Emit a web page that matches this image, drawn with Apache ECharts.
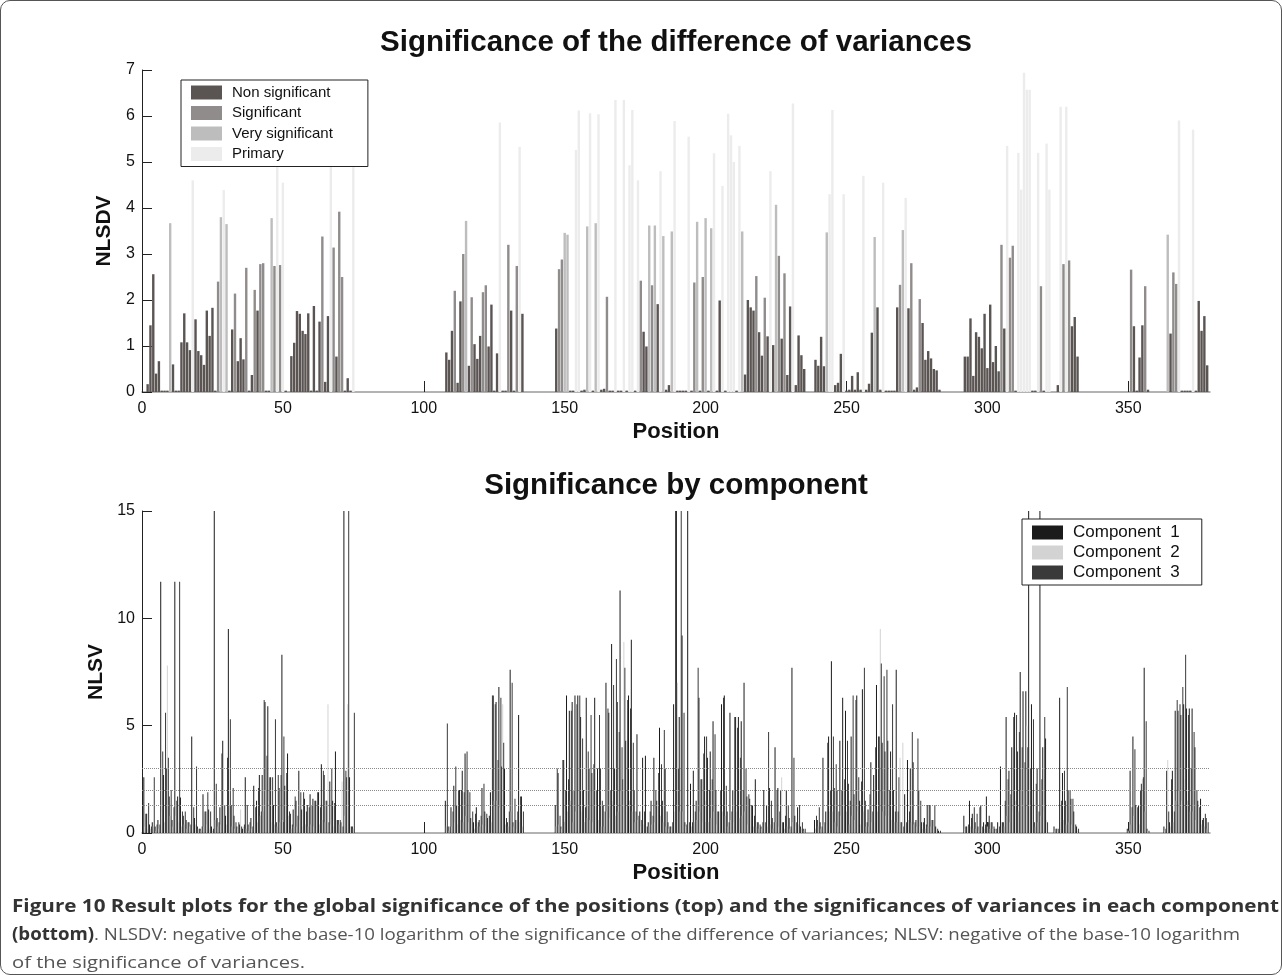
<!DOCTYPE html>
<html>
<head>
<meta charset="utf-8">
<script src="https://cdn.jsdelivr.net/npm/echarts@6/dist/echarts.min.js"></script>
<style>
html,body{margin:0;padding:0;background:#fff;}
#chart{position:absolute;left:0;top:0;width:1282px;height:975px;}
#frame{position:absolute;left:0;top:0;width:1282px;height:975px;box-sizing:border-box;border:1px solid #555;border-radius:10px;pointer-events:none;}
#caption{position:absolute;left:12px;top:892px;font-family:"Open Sans","Noto Sans",sans-serif;font-size:17px;line-height:28px;color:#555;white-space:nowrap;}
#caption .ln{display:block;transform-origin:0 50%;width:max-content;}
#caption b{color:#333;font-weight:700;}
</style>
</head>
<body>
<div id="chart"></div>
<div id="caption">
<span class="ln" data-w="1267"><b>Figure 10 Result plots for the global significance of the positions (top) and the significances of variances in each component</b></span>
<span class="ln" data-w="1228"><b>(bottom)</b>. NLSDV: negative of the base-10 logarithm of the significance of the difference of variances; NLSV: negative of the base-10 logarithm</span>
<span class="ln" data-w="293">of the significance of variances.</span>
</div>
<div id="frame"></div>
<script>
// ---------------- data ----------------
const xTicks = [0, 50, 100, 150, 200, 250, 300, 350];
const thresholds = [1.301, 2, 3];
const classNames = ['Non significant', 'Significant', 'Very significant', 'Primary'];
const componentNames = ['Component  1', 'Component  2', 'Component  3'];
// first position of each contiguous block of positions
const blockStarts = [1, 108, 147, 292, 350, 363];

// NLSDV per position, per block
const nlsdv = [
 [0,0.17,1.45,2.56,0.4,0.67,0.03,0.03,0.03,3.67,
  0.6,0.03,0.03,1.08,1.71,1.08,0.91,4.6,1.58,0.89,
  0.8,0.59,1.77,1.22,1.83,0.03,2.4,3.8,4.39,3.65,
  0.03,1.36,2.14,0.67,1.17,0.71,2.7,0.03,0.37,2.22,
  1.77,2.78,2.8,0.03,0.03,3.78,2.74,5.0,2.76,4.55,
  0.03,0,0.78,1.07,1.76,1.7,1.33,1.26,1.71,0.03,
  1.87,0.03,1.53,3.38,0.22,1.65,4.9,3.14,0.77,3.92,
  2.5,0.03,0.3,0.03,4.9],
 [0.86,0.7,1.33,2.2,0.2,1.97,3.0,3.72,0.57,2.06,
  1.04,0.72,1.22,2.17,2.32,0.99,1.9,0.03,0.84,5.86,
  0.03,0.03,3.2,1.77,0.03,2.74,5.33,1.7],
 [1.38,2.67,2.88,3.46,3.42,0.03,0.03,5.26,6.12,0.03,
  0.05,3.6,6.06,0.03,3.67,6.04,0.05,0.07,2.07,0.03,
  0.03,6.35,0.03,0.03,6.35,0.03,4.93,6.13,0.03,4.6,
  2.42,1.31,0.99,3.62,2.32,3.62,1.91,4.8,3.39,0.05,
  0.15,3.49,5.89,0.03,0.03,0.03,0.03,5.55,0.03,2.38,
  3.7,0.03,2.5,3.78,0.03,3.56,5.19,0.03,1.99,4.48,
  0.03,6.05,5.58,5.0,0.03,5.35,3.49,0.38,2.0,1.84,
  1.77,2.52,1.3,0.79,2.05,1.21,4.8,1.02,4.07,2.96,
  1.16,2.58,0.37,1.86,6.27,0.15,1.23,0.8,0.5,0,
  0,0,0.7,0.57,1.2,0.56,3.47,4.3,6.13,0.15,
  0.2,0.83,4.3,0.03,0.05,0.35,0.05,0.43,0.05,4.7,
  0.05,0.18,1.29,3.37,1.84,0.05,4.55,0.03,0.03,0.03,
  0.03,1.84,2.33,3.52,4.22,1.82,2.8,0.05,0.1,2.02,
  1.5,0.7,0.89,0.73,0.5,0.47,0.05],
 [0.77,0.77,1.6,0.35,1.3,1.2,0.95,1.7,0.52,1.9,
  0.65,1.0,0.45,3.2,1.38,5.35,2.92,3.18,0.03,5.2,
  4.4,6.94,6.57,6.57,0.03,0.03,5.2,2.3,0.03,5.4,
  4.4,0,0,0.15,6.2,2.78,6.2,2.86,1.43,1.63,
  0.77],
 [0,2.66,1.43,0.03,0.75,1.45,2.3,0.05],
 [0,3.42,1.27,2.6,2.35,5.9,0.03,0.03,0.03,0.03,5.7,0.03,1.98,1.33,1.65,0.58]
];
// class of each position: 0 non significant, 1 significant, 2 very significant, 3 primary
const nlsdvClass = [
 [0,0,0,0,0,0,0,0,0,2,
  0,0,0,0,0,0,0,3,0,0,
  0,0,0,0,0,0,1,2,3,2,
  0,0,1,0,0,0,1,0,0,1,
  0,1,1,0,0,2,1,3,1,3,
  0,0,0,0,0,0,0,0,0,0,
  0,0,0,1,0,0,3,1,0,1,
  1,0,0,0,3],
 [0,0,0,1,0,0,1,2,0,1,
  0,0,0,1,1,0,0,0,0,3,
  0,0,1,0,0,1,3,0],
 [0,1,1,2,2,0,0,3,3,0,
  0,2,3,0,2,3,0,0,1,0,
  0,3,0,0,3,0,3,3,0,3,
  1,0,0,2,1,2,0,3,2,0,
  0,2,3,0,0,0,0,3,0,1,
  2,0,1,2,0,2,3,0,0,3,
  0,3,3,3,0,3,2,0,0,0,
  0,1,0,0,1,0,3,0,2,1,
  0,1,0,0,3,0,0,0,0,0,
  0,0,0,0,0,0,2,3,3,0,
  0,0,3,0,0,0,0,0,0,3,
  0,0,0,2,0,0,3,0,0,0,
  0,0,1,2,3,0,1,0,0,1,
  0,0,0,0,0,0,0],
 [0,0,0,0,0,0,0,0,0,0,
  0,0,0,1,0,3,1,1,0,3,
  3,3,3,3,0,0,3,1,0,3,
  3,0,0,0,3,1,3,1,0,0,
  0],
 [0,1,0,0,0,0,1,0],
 [0,2,0,1,1,3,0,0,0,0,3,0,0,0,0,0]
];

// NLSV of each component per position, per block
const comp1 = [
 [2.6,0.9,0.4,0.5,0.3,0.6,11.7,2.7,3.0,1.7,
  0.6,11.7,1.7,1.65,0.8,0.6,0.5,4.5,0.7,0.3,
  0.2,1.8,1.0,1.1,0.3,16,0.7,1.2,4.3,0.8,
  9.5,1.3,0.8,0.3,0.4,0.2,2.6,0.4,0.7,2.2,
  1.5,2.7,2.7,6.1,5.9,2.6,1.3,0.5,2.1,8.3,
  2.2,3.7,0.9,1.1,1.5,2.9,1.1,1.6,1.3,1.8,
  1.6,1.5,1.9,3.2,2.7,1.5,2.4,1.5,3.8,0.6,
  0.5,16,2.6,2.6,0.3],
 [1.5,0.3,1.2,2.2,1.3,2.0,2.9,3.7,2.0,0.7,
  0.5,1.2,0.6,2.1,1.0,0.7,1.9,6.4,6.1,6.8,
  3.1,3.0,0.5,7.6,0.5,0.6,5.5,1.7],
 [1.3,2.8,0.3,3.4,6.4,5.7,6.1,6.4,6.4,5.4,
  2.0,6.3,3.0,2.8,6.3,3.0,3.0,1.3,7.0,5.6,
  8.8,3.0,6.1,11.3,2.5,4.3,6.4,9.0,2.0,4.6,
  1.0,3.5,3.6,0.5,1.5,3.5,1.5,4.9,1.5,3.0,
  0.5,0.3,6.0,16,5.4,9.2,0.5,16,2.3,2.9,
  1.5,6.3,2.5,4.5,3.5,3.8,5.2,2.0,1.0,6.0,
  6.4,1.0,5.6,2.0,5.4,5.4,5.2,7.0,1.7,1.6,
  1.3,2.5,0.5,0.3,2.0,1.3,2.1,0.7,4.0,2.1,
  2.0,0.5,2.0,0.7,7.7,0.8,1.2,0.3,0.2,0,
  0,0,0.6,0.6,0.5,3.5,1.0,4.5,8.0,2.1,
  2.0,4.3,6.3,5.7,2.3,4.5,1.8,6.4,1.5,6.7,
  1.5,1.1,3.3,2.7,6.9,4.5,4.2,3.8,4.3,3.8,
  2.0,7.6,2.6,0.5,1.8,3.4,3.0,3.3,0.6,2.0,
  0.5,0.7,1.3,1.3,0.6,0.3,0.1],
 [0.8,0.3,1.5,0.9,0.5,0.3,1.3,0.5,1.7,0.8,
  0.5,0.2,0.5,3.1,0.5,5.4,2.9,4.0,5.6,3.8,
  7.5,6.6,6.6,16,6.0,0.5,3.0,16,4.0,4.4,
  0,0,0.3,0.2,6.3,2.8,1.5,2.0,1.6,1.0,
  0.3],
 [0.2,2.9,4.5,1.3,1.3,2.3,7.7,0.2],
 [0.3,2.9,0.5,2.9,5.7,5.7,5.5,6.0,5.8,5.8,5.8,4.0,1.5,1.6,0.7,0.7]
];
const comp2 = [
 [0.3,0.2,0.2,0.3,0.1,0.2,1.0,0.5,7.8,0.8,
  0.3,0.8,0.5,0.3,0.4,0.2,0.3,0.3,0.4,0.2,
  0.1,0.3,0.4,0.2,0.1,0.6,0.3,0.4,0.3,0.4,
  1.3,0.3,0.2,0.2,1.1,0.3,0.2,0.1,0.2,0.4,
  0.5,0.8,1.0,2.0,1.5,0.5,0.4,0.3,0.5,0.6,
  0.5,0.8,0.2,0.3,0.3,0.6,0.3,0.4,0.3,0.4,
  0.3,0.2,0.4,0.6,0.5,6.0,0.4,0.3,0.6,0.4,
  2.4,0.8,6.0,0.3,0.2],
 [0.3,0.1,0.3,0.5,0.4,0.6,0.5,0.8,0.5,0.2,
  0.2,0.3,0.3,0.4,0.3,0.8,0.5,1.5,1.5,1.2,
  6.0,0.4,0.3,1.0,0.3,0.2,0.5,0.3],
 [0.3,0.4,0.2,0.6,1.0,1.5,0.5,1.0,2.0,1.0,
  0.5,0.7,0.6,0.5,1.0,0.6,0.3,0.3,1.0,0.7,
  1.5,0.8,1.0,2.0,8.9,1.0,1.5,1.0,0.5,0.6,
  0.3,0.4,0.3,0.3,0.4,0.5,0.4,0.8,0.5,0.3,
  0.2,0.2,1.0,7.0,1.0,1.0,0.3,0.5,0.3,0.5,
  0.6,1.0,0.5,1.5,0.5,0.7,1.0,0.4,0.3,1.0,
  0.8,0.3,0.6,0.5,1.0,0.7,0.8,1.0,0.4,0.3,
  0.3,0.3,0.2,0.2,0.3,0.3,0.4,0.2,0.5,0.3,
  2.6,0.2,0.3,0.2,0.5,0.3,0.4,0.2,0.1,0,
  0,0,0.2,0.3,0.2,0.4,0.4,1.0,1.0,0.5,
  0.3,0.8,1.0,1.0,0.4,0.8,0.6,1.0,0.4,1.0,
  0.3,0.3,0.5,0.5,1.0,9.5,1.0,0.8,0.8,0.6,
  0.5,0.5,3.5,4.2,0.4,0.6,0.5,0.4,0.3,0.3,
  0.2,0.2,0.3,0.3,0.3,0.1,0],
 [0.2,0.1,0.3,0.2,0.2,0.1,0.2,0.2,0.3,0.2,
  0.2,0.1,0.3,0.5,0.3,0.8,0.5,1.0,1.5,1.0,
  2.0,3.0,5.0,4.0,2.0,0.3,0.5,0.8,1.0,0.6,
  0,0,0.1,0.1,0.5,0.6,0.4,0.5,0.4,0.3,
  0.1],
 [0.1,0.4,0.8,0.4,0.4,2.5,1.0,0.1],
 [0.1,3.4,0.3,0.5,1.5,2.0,1.5,2.5,1.5,1.0,1.0,0.6,0.4,0.4,0.3,0.2]
];
const comp3 = [
 [0.9,1.4,0.3,2.6,0.4,0.4,3.8,5.6,3.5,2.0,
  1.2,1.5,11.7,1.0,1.0,0.5,0.4,1.2,3.1,0.2,
  0.3,1.0,1.9,1.0,0.2,2.3,0.5,3.7,1.3,3.5,
  5.3,2.1,0.5,0.5,0.3,0.4,1.3,0.5,0.3,1.2,
  2.1,1.0,6.2,3.6,2.6,2.6,5.3,2.7,2.7,4.5,
  2.8,1.0,0.4,1.7,0.8,1.9,1.9,1.0,1.2,1.3,
  1.5,1.9,1.2,2.9,1.5,0.5,3.0,1.4,0.6,0.6,
  0.3,2.9,16,0.3,5.6],
 [5.1,0.3,1.0,3.1,2.0,2.0,1.9,3.8,1.9,1.0,
  0.9,0.5,0.8,2.3,0.9,0.8,6.4,6.0,3.4,6.3,
  4.2,0.7,1.0,7.0,1.6,1.0,1.7,1.0],
 [3.0,0.8,3.4,2.0,2.5,5.7,2.0,6.0,6.4,4.4,
  1.2,3.8,5.5,3.2,2.0,5.5,1.5,1.0,5.8,2.0,
  6.9,8.1,4.7,4.0,7.7,6.2,5.8,4.2,1.0,0.8,
  0.6,1.0,0.3,1.0,0.8,2.0,2.8,3.2,4.8,1.0,
  0.3,0.5,16,3.0,16,5.6,0.4,0.5,0.5,1.0,
  7.7,2.5,3.7,4.5,2.0,2.5,4.6,1.0,2.0,6.3,
  2.2,0.5,1.0,5.4,4.9,3.5,2.0,3.0,1.8,1.3,
  0.8,0.5,0.4,0.5,0.5,4.7,1.5,0.5,2.0,1.0,
  0.5,0.8,1.3,0.3,3.5,0.5,1.3,0.5,0.2,0,
  0,0,0.8,1.2,0.3,0.5,4.2,2.0,4.5,3.2,
  1.0,2.0,2.5,4.3,1.5,6.4,6.2,2.6,2.4,7.7,
  0.5,1.8,1.0,4.0,4.5,7.9,7.3,7.6,2.0,6.0,
  1.0,1.0,0.5,0.3,0.5,1.0,4.7,0.5,4.4,1.5,
  0.5,0.4,1.3,0.6,1.3,0.2,0.1],
 [0.3,0.4,0.7,1.2,0.9,1.2,0.3,0.4,0.5,0.5,
  0.3,0.2,0.3,0.5,1.5,2.5,1.8,5.4,5.5,4.7,
  4.0,3.3,4.0,3.0,5.3,2.3,1.0,2.5,5.4,0.5,
  0,0,0.2,0.2,1.5,2.9,6.8,2.0,1.6,0.4,
  0.2],
 [0.1,1.2,3.9,1.2,2.0,2.6,5.2,0.1],
 [0.2,1.0,2.5,1.0,6.2,6.0,6.8,8.3,5.5,3.0,4.7,2.0,1.2,0.6,0.9,0.5]
];

// ---------------- build series ----------------
const FONT = 'Liberation Sans, Arial, sans-serif';
const topColors = ['#5a5453', '#8f8c8b', '#bdbdbd', '#ececec'];
const compColors = ['#1b1b1b', '#d3d3d3', '#3a3a3a'];

function topData(cls) {
  const out = [];
  blockStarts.forEach((s, b) => {
    nlsdv[b].forEach((v, i) => {
      if (nlsdvClass[b][i] === cls && v > 0) out.push([s + i, v]);
    });
  });
  return out;
}
function compData(arr) {
  const out = [];
  blockStarts.forEach((s, b) => {
    arr[b].forEach((v, i) => out.push([s + i, v]));
  });
  return out;
}

const series = [];
classNames.forEach((name, c) => {
  series.push({
    type: 'bar', name: name, xAxisIndex: 0, yAxisIndex: 0,
    data: topData(c), barWidth: 2.4, barGap: '-100%',
    itemStyle: { color: topColors[c] }, silent: true, clip: true
  });
});
[comp1, comp2, comp3].forEach((arr, k) => {
  const s = {
    type: 'bar', name: componentNames[k], xAxisIndex: 1, yAxisIndex: 1,
    data: compData(arr), barWidth: 0.95, barGap: '0%',
    itemStyle: { color: compColors[k] }, silent: true, clip: true
  };
  if (k === 0) {
    s.markLine = {
      silent: true, symbol: 'none', animation: false,
      label: { show: false },
      lineStyle: { type: 'dotted', color: '#8a8a8a', width: 1 },
      data: thresholds.map(v => ({ yAxis: v }))
    };
  }
  series.push(s);
});

function xAxisCfg(gridIndex) {
  return {
    type: 'value', gridIndex: gridIndex, min: 0, max: 379, interval: 50,
    name: 'Position', nameLocation: 'middle', nameGap: 29,
    nameTextStyle: { fontFamily: FONT, fontSize: 22, fontWeight: 'bold', color: '#111' },
    axisLine: { show: true, lineStyle: { color: '#9a9a9a', width: 1.5 } },
    axisTick: { show: true, inside: true, length: 11, customValues: xTicks, lineStyle: { color: '#222' } },
    axisLabel: { fontFamily: FONT, fontSize: 16, color: '#111', margin: 9, customValues: xTicks },
    splitLine: { show: false }
  };
}
function yAxisCfg(gridIndex, max, interval, name, gap) {
  return {
    type: 'value', gridIndex: gridIndex, min: 0, max: max, interval: interval,
    name: name, nameLocation: 'middle', nameGap: gap,
    nameTextStyle: { fontFamily: FONT, fontSize: 21, fontWeight: 'bold', color: '#111' },
    axisLine: { show: true, lineStyle: { color: '#222', width: 1 } },
    axisTick: { show: true, inside: true, length: 10, lineStyle: { color: '#222' } },
    axisLabel: { fontFamily: FONT, fontSize: 16, color: '#111', margin: 7 },
    splitLine: { show: false }
  };
}

const option = {
  animation: false,
  backgroundColor: '#fff',
  textStyle: { fontFamily: FONT },
  title: [
    { text: 'Significance of the difference of variances', left: 676, top: 28, textAlign: 'center', padding: 0,
      textStyle: { fontFamily: FONT, fontSize: 29.5, fontWeight: 'bold', color: '#111' } },
    { text: 'Significance by component', left: 676, top: 471, textAlign: 'center', padding: 0,
      textStyle: { fontFamily: FONT, fontSize: 29.5, fontWeight: 'bold', color: '#111' } }
  ],
  legend: [
    { data: classNames, left: 181, top: 80, orient: 'vertical', icon: 'rect',
      itemWidth: 31, itemHeight: 14, itemGap: 5.5, padding: [5, 35, 5, 10],
      borderColor: '#222', borderWidth: 1, backgroundColor: '#fff', selectedMode: false,
      textStyle: { fontFamily: FONT, fontSize: 15, color: '#111', padding: [0, 0, 0, 5] } },
    { data: componentNames, left: 1022, top: 519, orient: 'vertical', icon: 'rect',
      itemWidth: 31, itemHeight: 14, itemGap: 3, padding: [5, 22, 4, 10],
      borderColor: '#222', borderWidth: 1, backgroundColor: '#fff', selectedMode: false,
      textStyle: { fontFamily: FONT, fontSize: 17, color: '#111', padding: [0, 0, 0, 5] } }
  ],
  grid: [
    { left: 142, right: 72, top: 70, height: 322 },
    { left: 142, right: 72, top: 511, height: 322 }
  ],
  xAxis: [xAxisCfg(0), xAxisCfg(1)],
  yAxis: [yAxisCfg(0, 7, 1, 'NLSDV', 24), yAxisCfg(1, 15, 5, 'NLSV', 30)],
  series: series
};

const chart = echarts.init(document.getElementById('chart'), null, { renderer: 'canvas' });
chart.setOption(option);

// fit caption lines to the widths of the reference lines
document.querySelectorAll('#caption .ln').forEach(el => {
  const target = +el.getAttribute('data-w');
  const w = el.getBoundingClientRect().width;
  if (w > 0) el.style.transform = 'scaleX(' + (target / w) + ')';
});
</script>
</body>
</html>
